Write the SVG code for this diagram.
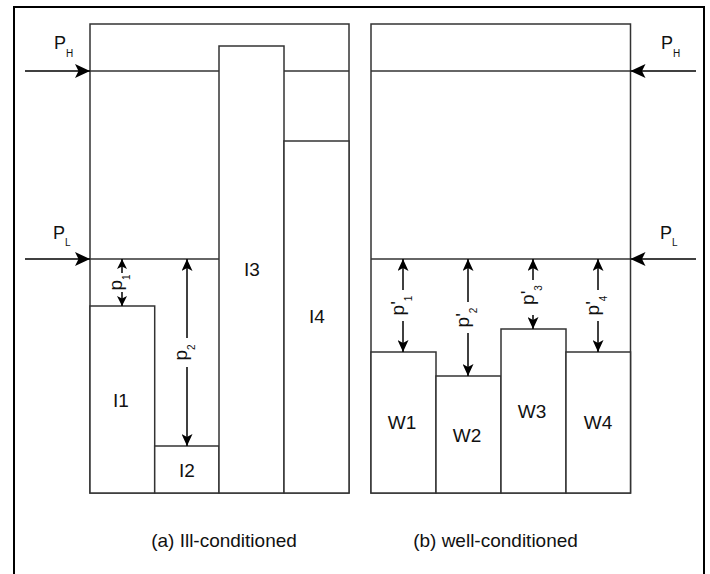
<svg xmlns="http://www.w3.org/2000/svg" width="710" height="574" viewBox="0 0 710 574">
  <style>
    .frame { fill: none; stroke: #000; stroke-width: 2; }
    .box { fill: #fff; stroke: #333; stroke-width: 1.5; }
    .rule { fill: none; stroke: #333; stroke-width: 1.5; }
    .wire { fill: none; stroke: #000; stroke-width: 1.5; }
    .gap { fill: #fff; stroke: none; }
    text { font-family: "Liberation Sans", Arial, Helvetica, sans-serif; fill: #111; }
    .lbl { font-size: 19px; text-anchor: middle; }
    .cap { font-size: 19px; text-anchor: middle; }
    .pin { font-size: 18px; }
    .dim { font-size: 19px; text-anchor: middle; }
  </style>
  <defs>
    <marker id="head" viewBox="0 0 15 14" refX="15" refY="7" markerWidth="15" markerHeight="14" markerUnits="userSpaceOnUse" orient="auto-start-reverse">
      <path d="M0,0 L15,7 L0,14 L3.5,7 Z" fill="#000"/>
    </marker>
    <marker id="tip" viewBox="0 0 12 11" refX="12" refY="5.5" markerWidth="12" markerHeight="11" markerUnits="userSpaceOnUse" orient="auto-start-reverse">
      <path d="M0,0 L12,5.5 L0,11 L3,5.5 Z" fill="#000"/>
    </marker>
    <marker id="tipS" viewBox="0 0 10 10" refX="10" refY="5" markerWidth="10" markerHeight="10" markerUnits="userSpaceOnUse" orient="auto-start-reverse">
      <path d="M0,0 L10,5 L0,10 L2.5,5 Z" fill="#000"/>
    </marker>
  </defs>

  <!-- outer border -->
  <rect class="frame" x="14" y="7" width="690" height="620"/>

  <!-- (a) ill-conditioned panel -->
  <g id="panel-a">
    <rect class="box" x="90" y="24" width="259" height="469"/>
    <line class="rule" x1="90" y1="71" x2="219" y2="71"/>
    <line class="rule" x1="284" y1="71" x2="349" y2="71"/>
    <line class="rule" x1="90" y1="259" x2="219" y2="259"/>
  </g>
  <g id="I1">
    <rect class="box" x="90" y="306" width="64.7" height="187"/>
    <text class="lbl" x="121" y="407">I1</text>
  </g>
  <g id="I2">
    <rect class="box" x="154.7" y="446" width="64.3" height="47"/>
    <text class="lbl" x="187" y="477">I2</text>
  </g>
  <g id="I3">
    <rect class="box" x="219" y="46" width="65" height="447"/>
    <text class="lbl" x="252" y="276">I3</text>
  </g>
  <g id="I4">
    <rect class="box" x="284" y="141" width="65" height="352"/>
    <text class="lbl" x="317" y="323">I4</text>
  </g>

  <!-- (b) well-conditioned panel -->
  <g id="panel-b">
    <rect class="box" x="371" y="24" width="259.5" height="469"/>
    <line class="rule" x1="371" y1="71" x2="630.5" y2="71"/>
    <line class="rule" x1="371" y1="259" x2="630.5" y2="259"/>
  </g>
  <g id="W1">
    <rect class="box" x="371" y="352" width="65" height="141"/>
    <text class="lbl" x="402" y="429">W1</text>
  </g>
  <g id="W2">
    <rect class="box" x="436" y="376" width="65" height="117"/>
    <text class="lbl" x="467" y="442">W2</text>
  </g>
  <g id="W3">
    <rect class="box" x="501" y="329" width="65" height="164"/>
    <text class="lbl" x="532" y="418">W3</text>
  </g>
  <g id="W4">
    <rect class="box" x="566" y="352" width="64.5" height="141"/>
    <text class="lbl" x="598" y="429">W4</text>
  </g>

  <!-- pressure level labels -->
  <g id="PH-a"><text class="pin" x="54" y="49">P<tspan dy="8" font-size="10">H</tspan></text></g>
  <g id="PL-a"><text class="pin" x="53" y="239">P<tspan dy="7" font-size="10">L</tspan></text></g>
  <g id="PH-b"><text class="pin" x="661" y="49">P<tspan dy="8" font-size="10">H</tspan></text></g>
  <g id="PL-b"><text class="pin" x="660" y="239">P<tspan dy="7" font-size="10">L</tspan></text></g>

  <!-- connectors -->
  <g id="connectors">
    <line class="wire" x1="25" y1="71" x2="90" y2="71" marker-end="url(#head)"/>
    <line class="wire" x1="25" y1="259" x2="90" y2="259" marker-end="url(#head)"/>
    <line class="wire" x1="696" y1="71" x2="630.5" y2="71" marker-end="url(#head)"/>
    <line class="wire" x1="696" y1="259" x2="630.5" y2="259" marker-end="url(#head)"/>

    <!-- p1 -->
    <line class="wire" x1="122" y1="259" x2="122" y2="306" marker-start="url(#tipS)" marker-end="url(#tipS)"/>
    <rect class="gap" x="114" y="273" width="16" height="19"/>
    <text class="dim" x="122" y="282.5" transform="rotate(-90 122 282.5)">p<tspan dy="8" font-size="10">1</tspan></text>

    <!-- p2 -->
    <line class="wire" x1="187" y1="259" x2="187" y2="446" marker-start="url(#tip)" marker-end="url(#tip)"/>
    <rect class="gap" x="179" y="338" width="16" height="29"/>
    <text class="dim" x="187" y="352.5" transform="rotate(-90 187 352.5)">p<tspan dy="8" font-size="10">2</tspan></text>

    <!-- p'1 -->
    <line class="wire" x1="403" y1="259" x2="403" y2="352" marker-start="url(#tip)" marker-end="url(#tip)"/>
    <rect class="gap" x="393" y="290" width="20" height="31"/>
    <text class="dim" x="404" y="305.5" transform="rotate(-90 404 305.5)">p'<tspan dy="8" font-size="10">1</tspan></text>

    <!-- p'2 -->
    <line class="wire" x1="468" y1="259" x2="468" y2="376" marker-start="url(#tip)" marker-end="url(#tip)"/>
    <rect class="gap" x="458" y="302" width="20" height="31"/>
    <text class="dim" x="469" y="317.5" transform="rotate(-90 469 317.5)">p'<tspan dy="8" font-size="10">2</tspan></text>

    <!-- p'3 -->
    <line class="wire" x1="533" y1="259" x2="533" y2="329" marker-start="url(#tip)" marker-end="url(#tip)"/>
    <rect class="gap" x="523" y="280" width="20" height="35"/>
    <text class="dim" x="534" y="295" transform="rotate(-90 534 295)">p'<tspan dy="8" font-size="10">3</tspan></text>

    <!-- p'4 -->
    <line class="wire" x1="598" y1="259" x2="598" y2="352" marker-start="url(#tip)" marker-end="url(#tip)"/>
    <rect class="gap" x="588" y="290" width="20" height="31"/>
    <text class="dim" x="599" y="305.5" transform="rotate(-90 599 305.5)">p'<tspan dy="8" font-size="10">4</tspan></text>
  </g>

  <!-- captions -->
  <g id="caption-a"><text class="cap" x="224" y="547">(a) Ill-conditioned</text></g>
  <g id="caption-b"><text class="cap" x="495.5" y="547">(b) well-conditioned</text></g>
</svg>
